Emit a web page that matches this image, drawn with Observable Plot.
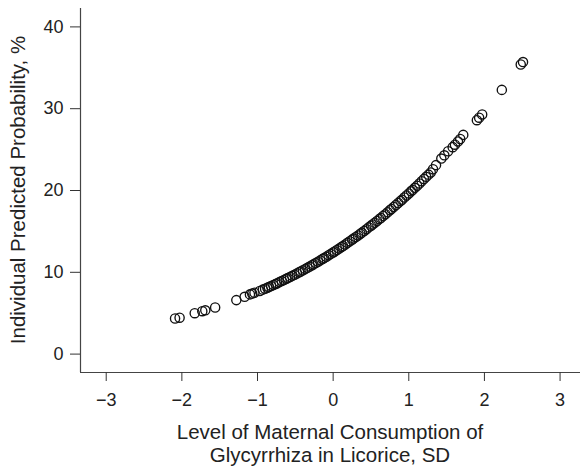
<!DOCTYPE html>
<html>
<head>
<meta charset="utf-8">
<script src="https://cdn.jsdelivr.net/npm/d3@7"></script>
<script src="https://cdn.jsdelivr.net/npm/@observablehq/plot@0.6"></script>
<style>
  html, body { margin: 0; padding: 0; background: #fff; overflow: hidden; }
</style>
</head>
<body>
<div id="chart"></div>
<script>
// Level of maternal consumption of glycyrrhiza (SD) for each individual
const sdLevel = [
  -2.09, -2.03, -1.83, -1.73, -1.69, -1.56, -1.28, -1.17, -1.10, -1.07, -1.04, -0.97,
  -0.93, -0.90, -0.87, -0.85, -0.82, -0.79, -0.76, -0.74, -0.71, -0.68, -0.65, -0.62,
  -0.60, -0.57, -0.54, -0.51, -0.48, -0.45, -0.43, -0.40, -0.37, -0.34, -0.31, -0.28,
  -0.26, -0.23, -0.20, -0.17, -0.14, -0.12, -0.09, -0.06, -0.03, 0.00, 0.02, 0.05,
  0.08, 0.11, 0.13, 0.16, 0.19, 0.22, 0.25, 0.27, 0.30, 0.33, 0.36, 0.38,
  0.41, 0.44, 0.47, 0.50, 0.52, 0.55, 0.58, 0.61, 0.63, 0.66, 0.69, 0.72,
  0.75, 0.77, 0.80, 0.83, 0.86, 0.89, 0.91, 0.94, 0.97, 1.00, 1.03, 1.05,
  1.08, 1.11, 1.14, 1.17, 1.20, 1.23, 1.26, 1.29, 1.32, 1.36, 1.43, 1.47,
  1.52, 1.58, 1.61, 1.65, 1.68, 1.72, 1.90, 1.93, 1.97, 2.23, 2.48, 2.51
];
// Individual predicted probability, %
const predictedProb = [
  4.35, 4.45, 5.00, 5.25, 5.35, 5.70, 6.60, 7.00, 7.30, 7.40, 7.50, 7.72,
  7.88, 8.00, 8.12, 8.21, 8.33, 8.45, 8.58, 8.67, 8.80, 8.93, 9.07, 9.20,
  9.29, 9.43, 9.57, 9.70, 9.85, 10.00, 10.09, 10.24, 10.39, 10.55, 10.70, 10.86,
  10.97, 11.13, 11.29, 11.46, 11.63, 11.74, 11.91, 12.08, 12.25, 12.42, 12.54, 12.72,
  12.90, 13.08, 13.21, 13.40, 13.60, 13.79, 13.99, 14.12, 14.31, 14.51, 14.72, 14.85,
  15.06, 15.27, 15.49, 15.70, 15.84, 16.06, 16.28, 16.50, 16.65, 16.88, 17.10, 17.34,
  17.58, 17.74, 17.98, 18.23, 18.47, 18.72, 18.88, 19.14, 19.39, 19.64, 19.90, 20.07,
  20.33, 20.59, 20.86, 21.13, 21.40, 21.67, 21.94, 22.21, 22.60, 23.10, 23.90, 24.30,
  24.80, 25.30, 25.60, 26.00, 26.30, 26.80, 28.60, 28.90, 29.30, 32.30, 35.40, 35.70
];
const xTicks = [-3, -2, -1, 0, 1, 2, 3];
const yTicks = [0, 10, 20, 30, 40];
const xTitleLines = ["Level of Maternal Consumption of", "Glycyrrhiza in Licorice, SD"];
const yTitle = "Individual Predicted Probability, %";

const data = sdLevel.map((x, i) => ({x, y: predictedProb[i]}));
const xDomain = [-3.34, 3.27];
const yDomain = [-2.25, 42.25];
const fmt = d => d < 0 ? "\u2212" + Math.abs(d) : String(d);

const W = 581, H = 470;
const M = {top: 8, right: 1, bottom: 98, left: 80};

const plot = Plot.plot({
  width: W,
  height: H,
  marginTop: M.top,
  marginRight: M.right,
  marginBottom: M.bottom,
  marginLeft: M.left,
  style: {fontFamily: "'Liberation Sans', Arial, sans-serif", fontSize: "18px", color: "#222", background: "#fff"},
  x: {domain: xDomain},
  y: {domain: yDomain},
  marks: [
    Plot.ruleX([xDomain[0]], {stroke: "#444", strokeWidth: 1.2}),
    Plot.ruleY([yDomain[0]], {stroke: "#444", strokeWidth: 1.2}),
    Plot.axisX({ticks: xTicks, tickSize: 9, tickPadding: 12, tickFormat: fmt, label: null, stroke: "#333"}),
    Plot.axisY({ticks: yTicks, tickSize: 10, tickPadding: 7, tickFormat: fmt, label: null, stroke: "#333"}),
    Plot.dot(data, {x: "x", y: "y", r: 4.6, stroke: "#111", strokeWidth: 1.35, fill: "none"})
  ]
});

const svg = d3.select(plot);
const xMid = (M.left + (W - M.right)) / 2;
const yMid = (M.top + (H - M.bottom)) / 2;
svg.append("text")
  .attr("x", xMid).attr("y", 439)
  .attr("text-anchor", "middle")
  .attr("font-size", "20.5px")
  .attr("fill", "#222")
  .text(xTitleLines[0]);
svg.append("text")
  .attr("x", xMid).attr("y", 462)
  .attr("text-anchor", "middle")
  .attr("font-size", "20.5px")
  .attr("fill", "#222")
  .text(xTitleLines[1]);
svg.append("text")
  .attr("transform", `translate(25,${yMid}) rotate(-90)`)
  .attr("text-anchor", "middle")
  .attr("font-size", "20.5px")
  .attr("fill", "#222")
  .text(yTitle);

document.getElementById("chart").appendChild(plot);
</script>
</body>
</html>
